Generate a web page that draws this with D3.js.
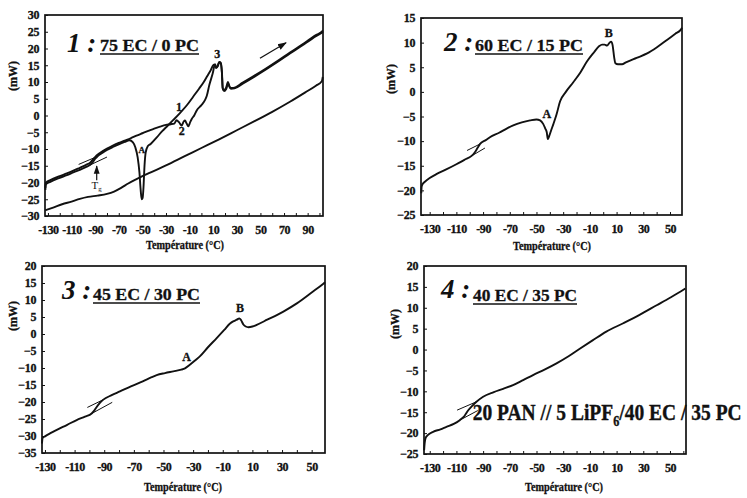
<!DOCTYPE html>
<html>
<head>
<meta charset="utf-8">
<script src="https://cdn.jsdelivr.net/npm/d3@7"></script>
<style>
  body { margin: 0; background: #fff; }
  svg { display: block; }
  text { font-family: "Liberation Serif", "Times New Roman", serif; fill: #111; }
</style>
</head>
<body>
<svg id="chart" width="747" height="498"></svg>
<script>
// ---- data (temperature degC, heat flow mW) ----
const xTicksWide = [-130, -110, -90, -70, -50, -30, -10, 10, 30, 50, 70, 90];
const xTicksNarrow = [-130, -110, -90, -70, -50, -30, -10, 10, 30, 50];
const yTicks1 = [-30, -25, -20, -15, -10, -5, 0, 5, 10, 15, 20, 25, 30];
const yTicks2 = [-25, -20, -15, -10, -5, 0, 5, 10, 15];
const yTicks3 = [-35, -30, -25, -20, -15, -10, -5, 0, 5, 10, 15, 20];
const yTicks4 = [-25, -20, -15, -10, -5, 0, 5, 10, 15, 20];

const titles = ['1 :', '2 :', '3 :', '4 :'];
const subtitles = ['75 EC / 0 PC', '60 EC / 15 PC', '45 EC / 30 PC', '40 EC / 35 PC'];

// panel 1 : two heating runs and the lower run
const p1Heat1 = [[-132.2, -22.2], [-131.8, -20.6], [-128, -19.8], [-120, -18.6], [-114, -17.8], [-108, -16.9],
  [-103, -16.2], [-98, -15.4], [-94.5, -14.8], [-92, -13.9], [-90, -12.9], [-88, -12.2], [-84, -11.2], [-80, -10.3],
  [-75, -9.4], [-70, -8.6], [-65, -7.9], [-61, -7.4], [-58, -8.0], [-56, -9.5], [-54, -12.5], [-52.5, -17],
  [-51.5, -22], [-50.6, -25], [-49.8, -24.6], [-49, -21], [-48.2, -15], [-47.2, -11], [-45.5, -9.2], [-43, -8.5],
  [-38, -6.6], [-33, -4.6], [-29, -3.2], [-24, -1.4], [-18, 0.8], [-12, 3.2], [-7, 5.6], [-2, 8], [2, 10],
  [5, 11.8], [8, 13.6], [10.5, 15.2], [12.5, 14.2], [13.5, 14.6], [15, 15.9], [16.3, 15.6], [17.3, 13], [18, 8.3],
  [19, 7.6], [20.8, 8.2], [22.5, 10], [23.5, 9], [24.5, 8.2], [27, 8.2], [35, 9.8], [45, 11.9], [55, 14.1],
  [65, 16.4], [75, 18.8], [85, 21.1], [92, 22.8], [97, 24], [102, 25], [103, 25.4]];
const p1Heat2 = [[-132.2, -21.6], [-131.8, -20.1], [-128, -19.3], [-120, -18.1], [-114, -17.3], [-108, -16.4],
  [-103, -15.6], [-98, -14.8], [-94, -14.0], [-91.5, -13.0], [-89, -12.0], [-86, -11.2], [-80, -9.9], [-75, -9.0],
  [-70, -8.2], [-65, -7.5], [-60, -6.8], [-55, -6.0], [-50, -5.3], [-45, -4.6], [-40, -3.9], [-35, -3.3],
  [-30, -2.8], [-26, -2.6], [-23, -2.4], [-21, -1.4], [-19, -2.0], [-16.7, -3.0], [-15, -1.8], [-13.9, -1.5],
  [-12.5, -2.4], [-11.1, -3.2], [-9.5, -2.0], [-8.3, -1.1], [-6, 0.1], [-4, 1.5], [0, 3.1], [3, 4.6], [4.5, 5.8],
  [6.7, 9.1], [9.6, 12.6], [11.5, 15.3], [12.8, 14.4], [14, 14.8], [15.2, 16.0], [16.4, 15.7], [17.4, 12.8],
  [18.1, 8.0], [19.2, 7.3], [21, 7.9], [22.6, 9.6], [23.6, 8.7], [25, 8.0], [28, 8.1], [35, 9.5], [45, 11.6],
  [55, 13.8], [65, 16.1], [75, 18.5], [85, 20.8], [92, 22.5], [97, 23.7], [102, 24.7], [103, 25]];
const p1Low = [[-132.2, -28.3], [-125, -27.4], [-118, -26.5], [-110, -25.7], [-103, -24.9], [-96, -24.3],
  [-88, -23.9], [-80, -23.4], [-74, -22.7], [-68, -21.6], [-62, -20.3], [-55, -19.0], [-45, -17.3], [-30, -14.9],
  [-15, -12.3], [0, -9.7], [15, -7.1], [30, -4.4], [45, -1.7], [60, 1.1], [75, 4.1], [88, 6.9], [97, 8.9],
  [102, 10.2], [102.8, 11.5]];

const p2Curve = [[-136.3, -20.6], [-136, -19.2], [-135, -18.6], [-133.8, -18.3], [-130, -17.5], [-125, -16.7],
  [-118, -15.8], [-110, -14.7], [-104, -13.8], [-98.6, -13], [-96, -12.2], [-94, -11.3], [-92.4, -10.6],
  [-88, -9.8], [-84.9, -9.2], [-78, -8.3], [-72, -7.4], [-67.4, -6.8], [-61, -6.2], [-54.8, -5.8], [-50, -5.6],
  [-47.3, -5.8], [-45, -6.5], [-43.5, -7.4], [-42.3, -8.2], [-41.5, -9.6], [-40.5, -9.0], [-39, -7.8],
  [-37.3, -6.5], [-35, -4.6], [-32.3, -1.9], [-28, 0], [-22.3, 2], [-17, 4], [-12.1, 6.2], [-7, 8], [-3, 9.3],
  [-0.9, 9.6], [1, 9.6], [2.9, 9.4], [4.5, 9.9], [5.9, 10.2], [7, 9.5], [8.2, 7], [9.1, 5.8], [11, 5.6],
  [14.1, 5.6], [17, 6], [25, 6.9], [32.9, 7.8], [40, 9], [48, 10.6], [54, 11.8], [58, 12.6], [59, 13]];

const p3Curve = [[-132, -32.2], [-131.6, -30.6], [-130, -30.1], [-126, -29.1], [-122, -28.2], [-115, -26.7],
  [-108.6, -25.3], [-103, -24.3], [-98.5, -23.4], [-96.5, -22.4], [-95, -21.4], [-92.8, -20.2], [-90.6, -19.3],
  [-85, -18.0], [-79.4, -16.9], [-72, -15.4], [-64, -13.9], [-58, -12.7], [-54.6, -12.1], [-49, -11.5],
  [-43.4, -11.0], [-38, -10.5], [-35.5, -10.1], [-32, -9.0], [-28.5, -7.7], [-25.3, -6.5], [-20, -3.9],
  [-14.1, -1.2], [-9, 1.2], [-5.1, 3.1], [-2.5, 3.8], [-0.5, 4.2], [1.2, 4.6], [2.3, 4.1], [3.9, 2.8],
  [5.5, 2.2], [7.3, 2.0], [10, 2.2], [12.9, 2.7], [20, 4.2], [30.9, 6.6], [40, 9.0], [50, 12.2], [57.9, 14.8],
  [59, 15.2]];

const p4Curve = [[-134.2, -24.1], [-133.8, -22.4], [-133, -21.1], [-131.5, -20.5], [-127.5, -19.7],
  [-122, -19.1], [-117.5, -18.5], [-112, -17.8], [-107.5, -16.9], [-104, -15.9], [-101.3, -14.6], [-98, -13.4],
  [-95, -12.5], [-90, -11.3], [-82, -10.2], [-75, -9.4], [-67.6, -8.5], [-60, -7.3], [-52.6, -6.1], [-44, -4.8],
  [-35, -3.3], [-26, -1.6], [-17.6, 0.2], [-8, 2.2], [2.3, 4.3], [15, 6.3], [27.2, 8.3], [40, 10.6], [50, 12.4],
  [58, 13.9], [61.5, 14.6]];

// Tg construction lines
const p1Tangents = [[[-104, -14.6], [-88, -12.2]], [[-94.5, -14.8], [-80, -12.4]]];
const p2Tangents = [[[-102, -11.9], [-92.4, -10.6]], [[-98.6, -13], [-88.6, -11.4]]];
const p3Tangents = [[[-101.4, -21.6], [-91, -19.4]], [[-98.5, -23.4], [-84.6, -20.1]]];
const p4Tangents = [[[-109.5, -14.5], [-95, -12.5]], [[-107.5, -16.9], [-94, -14.6]]];

// letter marks [text, T, mW]
const p1Marks = [['1', -19, 2.5], ['2', -16.7, -4.6], ['3', 13.5, 18.5], ['A', -50.6, -10.3]];
const p2Marks = [['A', -42.3, -4.4], ['B', 4.1, 12]];
const p3Marks = [['A', -34.4, -6.9], ['B', 1.6, 7.6]];
const p4Marks = [];

// ---- layout ----
const panels = [
  { box: [45, 323, 15, 216], xd: [-132.5, 103], yd: [-30, 30], xt: xTicksWide, yt: yTicks1,
    curves: [p1Low, p1Heat2, p1Heat1], tangents: p1Tangents, marks: p1Marks,
    title: [67, 52], sub: [100, 51, 99], xlab: [185, 249], ylab: [13, 76] },
  { box: [421, 682, 18, 215], xd: [-136.5, 59], yd: [-25, 15], xt: xTicksNarrow, yt: yTicks2,
    curves: [p2Curve], tangents: p2Tangents, marks: p2Marks,
    title: [444, 51], sub: [475, 51, 108], xlab: [552, 250], ylab: [391, 79] },
  { box: [42, 325, 266, 453], xd: [-132, 59], yd: [-35, 20], xt: xTicksNarrow, yt: yTicks3,
    curves: [p3Curve], tangents: p3Tangents, marks: p3Marks,
    title: [62, 299], sub: [93, 300, 107], xlab: [183, 491], ylab: [13, 316] },
  { box: [424, 686, 266, 454], xd: [-134.3, 62], yd: [-25, 20], xt: xTicksNarrow, yt: yTicks4,
    curves: [p4Curve], tangents: p4Tangents, marks: p4Marks,
    title: [441, 298], sub: [473, 301, 104], xlab: [564, 491], ylab: [395, 324] },
];

const svg = d3.select('#chart');
const ink = '#111';

svg.append('defs').append('marker')
  .attr('id', 'head').attr('viewBox', '0 0 10 10').attr('refX', 9).attr('refY', 5)
  .attr('markerWidth', 7).attr('markerHeight', 7).attr('orient', 'auto-start-reverse')
  .append('path').attr('d', 'M0,1.5L10,5L0,8.5Z').attr('fill', ink);

// heavy scanned-print look for the small labels
const heavy = sel => sel.attr('font-weight', 'bold').attr('stroke', ink).attr('stroke-width', 0.3);

panels.forEach((p, i) => {
  const [x0, x1, y0, y1] = p.box;
  const x = d3.scaleLinear().domain(p.xd).range([x0, x1]);
  const y = d3.scaleLinear().domain(p.yd).range([y1, y0]);
  const g = svg.append('g');

  // frame
  g.append('rect').attr('x', x0).attr('y', y0).attr('width', x1 - x0).attr('height', y1 - y0)
    .attr('fill', 'none').attr('stroke', ink).attr('stroke-width', 1.7);

  // x axis: inward ticks every 10 degrees, labels every 20
  const xAxis = d3.axisBottom(x).tickValues(d3.range(-130, p.xd[1], 10))
    .tickSize(-3).tickPadding(9).tickFormat(d => (p.xt.includes(d) ? d : ''));
  const gx = g.append('g').attr('transform', `translate(0,${y1})`).call(xAxis);
  gx.select('.domain').remove();
  gx.selectAll('line').attr('stroke', ink).attr('stroke-width', 1);
  gx.selectAll('text').attr('font-size', 12).attr('fill', ink).attr('letter-spacing', -0.4)
    .attr('font-family', '"Liberation Serif", serif').call(heavy);

  const yAxis = d3.axisLeft(y).tickValues(p.yt).tickSize(-3).tickPadding(6);
  const gy = g.append('g').attr('transform', `translate(${x0},0)`).call(yAxis);
  gy.select('.domain').remove();
  gy.selectAll('line').attr('stroke', ink).attr('stroke-width', 1);
  gy.selectAll('text').attr('font-size', 12).attr('fill', ink).attr('letter-spacing', -0.4)
    .attr('font-family', '"Liberation Serif", serif').call(heavy);

  // axis titles
  g.append('text').attr('x', p.xlab[0]).attr('y', p.xlab[1]).attr('text-anchor', 'middle')
    .attr('font-size', 12).attr('textLength', 78)
    .attr('lengthAdjust', 'spacingAndGlyphs').text('Température (°C)').call(heavy);
  g.append('text').attr('transform', `translate(${p.ylab[0]},${p.ylab[1]}) rotate(-90)`)
    .attr('text-anchor', 'middle').attr('dominant-baseline', 'central')
    .attr('font-size', 12).text('(mW)').call(heavy);

  // curves
  const line = d3.line().x(d => x(d[0])).y(d => y(d[1])).curve(d3.curveMonotoneX);
  p.curves.forEach(c => {
    g.append('path').datum(c).attr('d', line).attr('fill', 'none')
      .attr('stroke', ink).attr('stroke-width', 1.9).attr('stroke-linejoin', 'round');
  });
  p.tangents.forEach(t => {
    g.append('path').datum(t).attr('d', d3.line().x(d => x(d[0])).y(d => y(d[1])))
      .attr('stroke', ink).attr('stroke-width', 1);
  });
  p.marks.forEach(m => {
    g.append('text').attr('x', x(m[1])).attr('y', y(m[2])).attr('text-anchor', 'middle')
      .attr('dominant-baseline', 'central').attr('font-size', m[0] === 'A' && i === 0 ? 9 : 12)
      .text(m[0]).call(heavy);
  });

  // panel title
  g.append('text').attr('x', p.title[0]).attr('y', p.title[1]).attr('font-size', 27)
    .attr('font-weight', 'bold').attr('font-style', 'italic').text(titles[i]);
  g.append('text').attr('x', p.sub[0]).attr('y', p.sub[1]).attr('font-size', 17)
    .attr('textLength', p.sub[2]).attr('lengthAdjust', 'spacingAndGlyphs')
    .text(subtitles[i]).call(heavy);
  g.append('line').attr('x1', p.sub[0]).attr('x2', p.sub[0] + p.sub[2])
    .attr('y1', p.sub[1] + 3).attr('y2', p.sub[1] + 3).attr('stroke', ink).attr('stroke-width', 1.6);

  if (i === 0) {
    // heating direction arrow and Tg marker
    g.append('line').attr('x1', x(49.6)).attr('y1', y(17.1)).attr('x2', x(71.7)).attr('y2', y(21.7))
      .attr('stroke', ink).attr('stroke-width', 1.3).attr('marker-end', 'url(#head)');
    g.append('line').attr('x1', x(-88.7)).attr('y1', y(-19.3)).attr('x2', x(-88.7)).attr('y2', y(-15.1))
      .attr('stroke', ink).attr('stroke-width', 1.2).attr('marker-end', 'url(#head)');
    const tg = g.append('text').attr('x', x(-88.7)).attr('y', y(-20.7) + 4).attr('text-anchor', 'middle')
      .attr('font-size', 11);
    tg.append('tspan').text('T');
    tg.append('tspan').attr('font-size', 7).attr('dy', 2.5).text('g');
  }
  if (i === 3) {
    const gl = g.append('g').attr('transform', 'translate(472.7,420)');
    const t = gl.append('text').attr('font-size', 24).attr('font-weight', 'bold')
      .attr('stroke', ink).attr('stroke-width', 0.4);
    t.append('tspan').text('20 PAN // 5 LiPF');
    t.append('tspan').attr('font-size', 15).attr('dy', 6).text('6');
    t.append('tspan').attr('dy', -6).text('/40 EC / 35 PC');
    const bw = t.node().getBBox().width;
    gl.attr('transform', `translate(472.7,420) scale(${269 / bw},1)`);
  }
});
</script>
</body>
</html>
